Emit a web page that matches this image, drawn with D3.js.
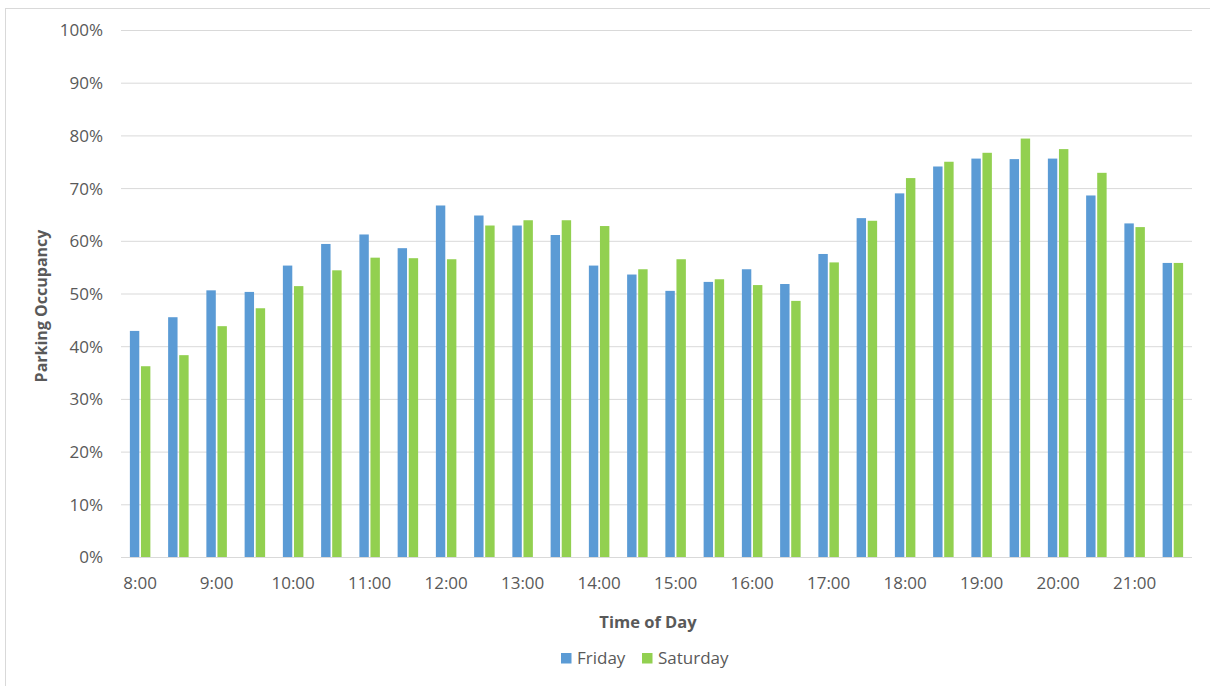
<!DOCTYPE html>
<html>
<head>
<meta charset="utf-8">
<script src="https://cdn.jsdelivr.net/npm/d3@7"></script>
<style>
  html, body { margin: 0; padding: 0; background: #fff; }
  svg { display: block; font-family: "Open Sans", "Noto Sans", sans-serif; }
</style>
</head>
<body>
<svg id="chart" width="1210" height="686"></svg>
<script>
const categories = ["8:00","8:30","9:00","9:30","10:00","10:30","11:00","11:30","12:00","12:30",
  "13:00","13:30","14:00","14:30","15:00","15:30","16:00","16:30","17:00","17:30",
  "18:00","18:30","19:00","19:30","20:00","20:30","21:00","21:30"];
const friday = [0.429,0.455,0.506,0.503,0.553,0.594,0.612,0.586,0.667,0.648,
  0.629,0.611,0.553,0.536,0.505,0.522,0.546,0.518,0.575,0.643,
  0.690,0.741,0.756,0.755,0.756,0.686,0.633,0.558];
const saturday = [0.362,0.383,0.438,0.472,0.514,0.544,0.568,0.567,0.565,0.629,
  0.639,0.639,0.628,0.546,0.565,0.527,0.516,0.486,0.559,0.638,
  0.719,0.750,0.767,0.794,0.774,0.729,0.626,0.558];
const seriesNames = ["Friday","Saturday"];
const seriesColors = ["#5B9BD5","#92D050"];
const yTicks = [0,0.1,0.2,0.3,0.4,0.5,0.6,0.7,0.8,0.9,1.0];
const tickLabels = ["8:00","9:00","10:00","11:00","12:00","13:00","14:00","15:00","16:00","17:00","18:00","19:00","20:00","21:00"];

(function () {
const svg = d3.select("#chart");
const pLeft = 121, pRight = 1192, pTop = 30, pBottom = 557;
const textColor = "#595959";
const gridColor = "#D9D9D9";

// outer chart border
svg.append("rect").attr("x", 5.5).attr("y", 8.5).attr("width", 1300).attr("height", 800)
  .attr("fill", "none").attr("stroke", gridColor).attr("stroke-width", 1);

const y = d3.scaleLinear().domain([0, 1]).range([pBottom, pTop]);
const groupW = 20.5;
const step = (pRight - pLeft) / categories.length;
const pad = 1 - groupW / step;
const x0 = d3.scaleBand().domain(categories).range([pLeft, pRight]).paddingInner(pad).paddingOuter(pad / 2);
const x1 = d3.scaleBand().domain(seriesNames).range([0, x0.bandwidth()]).paddingInner(0.15);

// gridlines
const yAxis = d3.axisLeft(y).tickValues(yTicks).tickSize(-(pRight - pLeft)).tickFormat(d3.format(".0%")).tickPadding(18);
const gy = svg.append("g").attr("transform", `translate(${pLeft},0)`).call(yAxis);
gy.select(".domain").remove();
gy.selectAll(".tick line").attr("stroke", gridColor).attr("stroke-width", 1);
gy.selectAll(".tick text").attr("fill", textColor).style("font-size", "17px")
  .style("font-family", '"Open Sans", sans-serif').attr("dy", "0.35em");

// bars
const data = categories.map((c, i) => ({ cat: c, values: [friday[i], saturday[i]] }));
const groups = svg.append("g").selectAll("g").data(data).join("g")
  .attr("transform", d => `translate(${x0(d.cat)},0)`);
groups.selectAll("rect").data(d => d.values.map((v, j) => ({ name: seriesNames[j], v, j })))
  .join("rect")
  .attr("x", d => x1(d.name))
  .attr("y", d => y(d.v))
  .attr("width", x1.bandwidth())
  .attr("height", d => y(0) - y(d.v))
  .attr("fill", d => seriesColors[d.j]);

// baseline
svg.append("line").attr("x1", pLeft).attr("x2", pRight).attr("y1", pBottom + 0.5).attr("y2", pBottom + 0.5)
  .attr("stroke", gridColor).attr("stroke-width", 1);

// x axis labels (every hour)
const xAxis = d3.axisBottom(x0).tickValues(tickLabels).tickSize(0).tickPadding(0);
const gx = svg.append("g").attr("transform", `translate(0,${pBottom})`).call(xAxis);
gx.select(".domain").remove();
gx.selectAll(".tick text").attr("fill", textColor).style("font-size", "17px")
  .style("font-family", '"Open Sans", sans-serif').attr("y", 32).attr("dy", 0);

// axis titles
svg.append("text").attr("x", 648).attr("y", 628).attr("text-anchor", "middle")
  .attr("fill", textColor).style("font-size", "16.5px").style("font-weight", "bold").text("Time of Day");
svg.append("text").attr("transform", `translate(47,306) rotate(-90)`)
  .attr("text-anchor", "middle").attr("fill", textColor)
  .style("font-size", "16px").style("font-weight", "bold").text("Parking Occupancy");

// legend
const legendItems = [{ name: "Friday", x: 561 }, { name: "Saturday", x: 642 }];
const lg = svg.append("g").selectAll("g").data(legendItems).join("g")
  .attr("transform", d => `translate(${d.x},0)`);
lg.append("rect").attr("x", 0).attr("y", 653).attr("width", 10.5).attr("height", 10.5)
  .attr("fill", (d, i) => seriesColors[i]);
lg.append("text").attr("x", 16).attr("y", 664).attr("fill", textColor).style("font-size", "17px")
  .text(d => d.name);
})();
</script>
</body>
</html>
